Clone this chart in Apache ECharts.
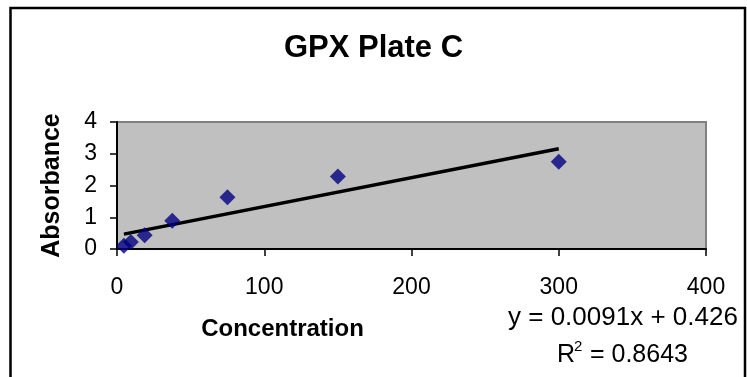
<!DOCTYPE html>
<html>
<head>
<meta charset="utf-8">
<script src="https://cdn.jsdelivr.net/npm/echarts@6/dist/echarts.min.js"></script>
<style>
  html, body { margin: 0; padding: 0; background: #fff; }
  #chart { width: 747px; height: 377px; }
</style>
</head>
<body>
<div id="chart"></div>
<script>
// values
var concentration = [4.6875, 9.375, 18.75, 37.5, 75, 150, 300];
var absorbance = [0.10, 0.22, 0.43, 0.89, 1.63, 2.28, 2.75];
// linear trendline shown on the chart: y = slope * x + intercept
var trendSlope = [0.0091];
var trendIntercept = [0.426];
var rSquared = [0.8643];

var points = concentration.map(function (x, i) { return [x, absorbance[i]]; });
var xFirst = concentration[0];
var xLast = concentration[concentration.length - 1];
var trend = [
  [xFirst, trendSlope[0] * xFirst + trendIntercept[0]],
  [xLast, trendSlope[0] * xLast + trendIntercept[0]]
];

var font = "'Liberation Sans', Arial, sans-serif";
var chart = echarts.init(document.getElementById('chart'));

chart.setOption({
  backgroundColor: '#fff',
  animation: false,
  title: {
    text: 'GPX Plate C',
    left: 'center',
    top: 28,
    textStyle: { fontFamily: font, fontSize: 31, fontWeight: 'bold', color: '#000' }
  },
  grid: {
    left: 117, right: 41, top: 122, bottom: 128,
    show: true,
    backgroundColor: '#c0c0c0',
    borderColor: '#808080',
    borderWidth: 2
  },
  xAxis: {
    type: 'value',
    min: 0, max: 400, interval: 100,
    name: 'Concentration',
    nameLocation: 'middle',
    nameGap: 68,
    nameTextStyle: { fontFamily: font, fontSize: 24, fontWeight: 'bold', color: '#000', padding: [0, 258, 0, 0] },
    axisLine: { onZero: false, lineStyle: { color: '#000', width: 2 } },
    axisTick: { show: true, length: 7, lineStyle: { color: '#000', width: 1.5 } },
    axisLabel: { fontFamily: font, fontSize: 23, color: '#000', margin: 27 },
    splitLine: { show: false }
  },
  yAxis: {
    type: 'value',
    min: 0, max: 4, interval: 1,
    name: 'Absorbance',
    nameLocation: 'middle',
    nameGap: 52,
    nameTextStyle: { fontFamily: font, fontSize: 25, fontWeight: 'bold', color: '#000' },
    axisLine: { show: true, onZero: false, lineStyle: { color: '#000', width: 2 } },
    axisTick: { show: true, length: 7, lineStyle: { color: '#000', width: 1.5 } },
    axisLabel: { fontFamily: font, fontSize: 23, color: '#000', margin: 20 },
    splitLine: { show: false }
  },
  series: [
    {
      name: 'Trend',
      type: 'line',
      data: trend,
      symbol: 'none',
      lineStyle: { color: '#000', width: 3.5 },
      z: 2
    },
    {
      name: 'Absorbance',
      type: 'scatter',
      data: points,
      symbol: 'diamond',
      symbolSize: 16,
      itemStyle: { color: '#000080' },
      z: 3
    }
  ],
  graphic: [
    {
      type: 'rect',
      shape: { x: 10.5, y: 8, width: 734.5, height: 400 },
      style: { fill: 'none', stroke: '#000', lineWidth: 2.5 },
      silent: true
    },
    {
      type: 'text',
      x: 508, y: 318,
      style: {
        text: 'y = ' + trendSlope[0] + 'x + ' + trendIntercept[0],
        font: '26px ' + font,
        fill: '#000',
        verticalAlign: 'middle'
      }
    },
    {
      type: 'text',
      x: 557, y: 355,
      style: { text: 'R', font: '25px ' + font, fill: '#000', verticalAlign: 'middle' }
    },
    {
      type: 'text',
      x: 574, y: 347,
      style: { text: '2', font: '15px ' + font, fill: '#000', verticalAlign: 'middle' }
    },
    {
      type: 'text',
      x: 583, y: 355,
      style: { text: ' = ' + rSquared[0], font: '25px ' + font, fill: '#000', verticalAlign: 'middle' }
    }
  ]
});
</script>
</body>
</html>
